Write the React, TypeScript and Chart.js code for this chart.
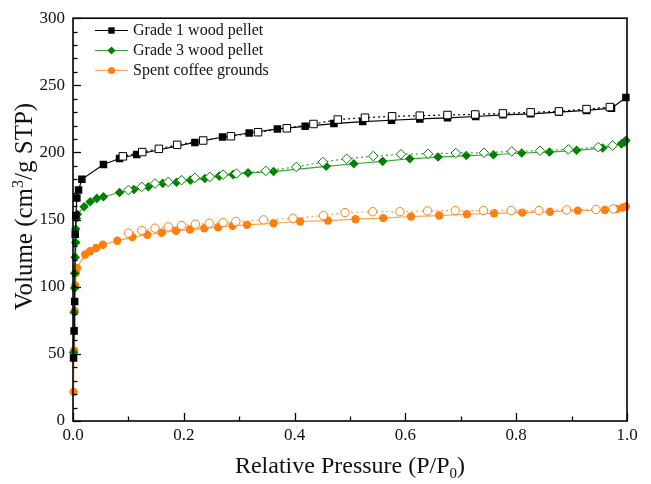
import React, { useEffect, useRef } from 'react';
import { Chart, registerables } from 'chart.js';

Chart.register(...registerables);

// ---- data ----
const g1AdsX = [0.001, 0.002, 0.003, 0.004, 0.005, 0.007, 0.010, 0.016, 0.055, 0.084, 0.115, 0.220, 0.270, 0.318, 0.369, 0.419, 0.471, 0.523, 0.575, 0.626, 0.676, 0.727, 0.776, 0.826, 0.877, 0.927, 0.972, 0.998];
const g1AdsY = [47, 67, 89, 139, 153, 166, 172, 180, 191, 195.5, 198.5, 207.5, 211.5, 214.5, 217.5, 219.5, 221.5, 223, 224, 225, 225.8, 226.8, 228, 228.8, 230, 231.3, 233, 241];
const g1DesX = [0.969, 0.927, 0.877, 0.826, 0.776, 0.726, 0.676, 0.626, 0.576, 0.527, 0.478, 0.434, 0.386, 0.334, 0.285, 0.235, 0.188, 0.155, 0.125, 0.090];
const g1DesY = [233.8, 232.3, 230.6, 229.9, 229.1, 228.3, 227.9, 227.4, 226.9, 225.9, 224.5, 221.2, 218, 215.1, 212.1, 208.9, 205.7, 202.7, 200.3, 197.1];

const g3AdsX = [0.001, 0.002, 0.003, 0.003, 0.004, 0.005, 0.005, 0.006, 0.008, 0.020, 0.031, 0.043, 0.055, 0.084, 0.110, 0.136, 0.162, 0.187, 0.212, 0.238, 0.264, 0.289, 0.316, 0.362, 0.457, 0.507, 0.559, 0.608, 0.659, 0.710, 0.759, 0.810, 0.860, 0.909, 0.956, 0.990, 0.995, 0.998];
const g3AdsY = [51, 81, 99, 110, 122, 133, 143, 151, 154, 159.6, 163.3, 165.8, 167, 170.2, 172.4, 174.5, 177, 177.8, 179.4, 180.6, 182.4, 183.5, 184.8, 185.8, 189.7, 191.6, 193.4, 195.3, 196.6, 197.7, 198.3, 199.6, 200.3, 201.6, 203.3, 206.4, 207.7, 209];
const g3DesX = [0.974, 0.948, 0.894, 0.843, 0.792, 0.742, 0.691, 0.641, 0.592, 0.542, 0.494, 0.451, 0.403, 0.348, 0.295, 0.271, 0.247, 0.220, 0.196, 0.172, 0.148, 0.124, 0.100];
const g3DesY = [205.2, 204, 202.3, 201.3, 200.8, 199.8, 199.6, 199, 198.6, 197.3, 195.3, 192.9, 189.2, 186.3, 184.3, 183.5, 181.8, 181.1, 179.4, 178.1, 176.9, 174.4, 172];

const scAdsX = [0.001, 0.002, 0.003, 0.004, 0.005, 0.007, 0.022, 0.031, 0.042, 0.054, 0.080, 0.107, 0.134, 0.160, 0.186, 0.211, 0.237, 0.262, 0.288, 0.314, 0.362, 0.410, 0.460, 0.510, 0.560, 0.610, 0.661, 0.711, 0.760, 0.811, 0.861, 0.911, 0.960, 0.981, 0.992, 0.998];
const scAdsY = [21.7, 52.5, 82, 101, 110.3, 114, 124, 126.4, 128.8, 131.3, 134.3, 137, 138.7, 140.2, 141.7, 142.6, 143.6, 144.3, 145.4, 146.1, 147.3, 148.6, 149.3, 150.3, 151.1, 152.3, 153, 154, 154.7, 155.2, 155.9, 156.7, 157.2, 157.9, 158.9, 159.8];
const scDesX = [0.975, 0.944, 0.891, 0.841, 0.791, 0.741, 0.690, 0.640, 0.590, 0.541, 0.491, 0.452, 0.397, 0.344, 0.294, 0.271, 0.246, 0.221, 0.196, 0.172, 0.148, 0.124, 0.100];
const scDesY = [157.9, 157.6, 157.2, 156.7, 156.7, 156.7, 156.7, 156.5, 155.9, 155.9, 155.2, 153, 151, 149.8, 148.6, 147.8, 147.3, 146.6, 145.6, 144.6, 143.6, 141.9, 140];

const seriesLabels = ['Grade 1 wood pellet', 'Grade 3 wood pellet', 'Spent coffee grounds'];
const xTickValues = [0, 0.2, 0.4, 0.6, 0.8, 1.0];
const yTickValues = [0, 50, 100, 150, 200, 250, 300];
const xTitleMain = 'Relative Pressure (P/P';
const xTitleSub = '0';
const yTitleA = 'Volume (cm';
const yTitleSup = '3';
const yTitleB = '/g STP)';

const FONT = '"Liberation Serif", "Times New Roman", serif';

const styles = [
  { marker: '#000000', line: '#000000', point: 'rect', radius: 5.3 },
  { marker: '#008000', line: '#3aa63a', point: 'rectRot', radius: 4.8 },
  { marker: '#ff7f0e', line: '#ffa04a', point: 'circle', radius: 4.2 },
];

function pts(xs: number[], ys: number[]) {
  return xs.map((x, i) => ({ x, y: ys[i] }));
}

function drawMarker(ctx: CanvasRenderingContext2D, type: string, x: number, y: number, r: number) {
  ctx.beginPath();
  if (type === 'rect') {
    const s = Math.SQRT1_2 * r;
    ctx.rect(x - s, y - s, 2 * s, 2 * s);
  } else if (type === 'rectRot') {
    ctx.moveTo(x - r, y);
    ctx.lineTo(x, y - r);
    ctx.lineTo(x + r, y);
    ctx.lineTo(x, y + r);
    ctx.closePath();
  } else {
    ctx.arc(x, y, r, 0, Math.PI * 2);
  }
  ctx.fill();
}

const decorPlugin = {
  id: 'decor',
  afterDraw(chart: any) {
    const ctx: CanvasRenderingContext2D = chart.ctx;
    const { left, right, top, bottom } = chart.chartArea;
    const xs = chart.scales.x;
    const ys = chart.scales.y;
    ctx.save();
    ctx.strokeStyle = '#000';
    // ticks
    ctx.lineWidth = 1.3;
    for (let v = 0; v <= 300 + 1e-9; v += 10) {
      const py = Math.round(ys.getPixelForValue(v)) + 0.5;
      const len = v % 50 === 0 ? 8 : 4.5;
      ctx.beginPath();
      ctx.moveTo(left, py);
      ctx.lineTo(left + len, py);
      ctx.stroke();
    }
    for (let i = 0; i <= 10; i++) {
      const v = i / 10;
      const px = Math.round(xs.getPixelForValue(v)) + 0.5;
      const len = i % 2 === 0 ? 8 : 4.5;
      ctx.beginPath();
      ctx.moveTo(px, bottom);
      ctx.lineTo(px, bottom - len);
      ctx.stroke();
    }
    // frame
    ctx.lineWidth = 1.6;
    ctx.strokeRect(left, top, right - left, bottom - top);

    // titles
    ctx.fillStyle = '#111';
    ctx.textBaseline = 'alphabetic';
    // x title
    const big = 24;
    const small = 15;
    ctx.font = `${big}px ${FONT}`;
    const w1 = ctx.measureText(xTitleMain).width;
    ctx.font = `${small}px ${FONT}`;
    const w2 = ctx.measureText(xTitleSub).width;
    ctx.font = `${big}px ${FONT}`;
    const w3 = ctx.measureText(')').width;
    const total = w1 + w2 + w3;
    let cx = (left + right) / 2 - total / 2;
    const by = 473;
    ctx.textAlign = 'left';
    ctx.fillText(xTitleMain, cx, by);
    cx += w1;
    ctx.font = `${small}px ${FONT}`;
    ctx.fillText(xTitleSub, cx, by + 5);
    cx += w2;
    ctx.font = `${big}px ${FONT}`;
    ctx.fillText(')', cx, by);

    // y title (rotated)
    const ybig = 25;
    const ysmall = 16;
    ctx.save();
    ctx.translate(32, (top + bottom) / 2 - 13);
    ctx.rotate(-Math.PI / 2);
    ctx.font = `${ybig}px ${FONT}`;
    const a = ctx.measureText(yTitleA).width;
    const c = ctx.measureText(yTitleB).width;
    ctx.font = `${ysmall}px ${FONT}`;
    const b = ctx.measureText(yTitleSup).width;
    let tx = -(a + b + c) / 2;
    ctx.font = `${ybig}px ${FONT}`;
    ctx.fillText(yTitleA, tx, 0);
    tx += a;
    ctx.font = `${ysmall}px ${FONT}`;
    ctx.fillText(yTitleSup, tx, -9);
    tx += b;
    ctx.font = `${ybig}px ${FONT}`;
    ctx.fillText(yTitleB, tx, 0);
    ctx.restore();

    // legend
    const rows = [30, 50, 70];
    ctx.font = `16px ${FONT}`;
    ctx.textBaseline = 'middle';
    seriesLabels.forEach((lab, i) => {
      const st = styles[i];
      const y = rows[i];
      ctx.strokeStyle = st.line;
      ctx.lineWidth = 1.2;
      ctx.beginPath();
      ctx.moveTo(95, y + 0.5);
      ctx.lineTo(128, y + 0.5);
      ctx.stroke();
      ctx.fillStyle = st.marker;
      drawMarker(ctx, st.point, 111.5, y + 0.5, st.radius * 0.85);
      ctx.fillStyle = '#111';
      ctx.fillText(lab, 133, y + 1);
    });
    ctx.restore();
  },
};

export default function App() {
  const ref = useRef<HTMLCanvasElement | null>(null);
  useEffect(() => {
    if (!ref.current) return;
    const ads = [pts(g1AdsX, g1AdsY), pts(g3AdsX, g3AdsY), pts(scAdsX, scAdsY)];
    const des = [pts(g1DesX, g1DesY), pts(g3DesX, g3DesY), pts(scDesX, scDesY)];
    const datasets: any[] = [];
    styles.forEach((st, i) => {
      datasets.push({
        label: seriesLabels[i] + ' (desorption)',
        data: des[i],
        borderColor: st.line,
        borderWidth: 1.2,
        borderDash: [2, 3],
        pointStyle: st.point,
        pointRadius: st.radius,
        pointBackgroundColor: '#ffffff',
        pointBorderColor: st.marker,
        pointBorderWidth: 1,
        showLine: true,
        tension: 0,
        clip: 8,
        order: 1,
      });
      datasets.push({
        label: seriesLabels[i],
        data: ads[i],
        borderColor: st.line,
        borderWidth: 1.2,
        pointStyle: st.point,
        pointRadius: st.radius,
        pointBackgroundColor: st.marker,
        pointBorderColor: st.marker,
        pointBorderWidth: 0,
        showLine: true,
        tension: 0,
        clip: 8,
        order: 2,
      });
    });
    const chart = new Chart(ref.current, {
      type: 'line',
      data: { datasets },
      options: {
        responsive: false,
        animation: false,
        events: [],
        layout: { padding: { top: 15, right: 24, left: 0, bottom: 0 } },
        plugins: { legend: { display: false }, tooltip: { enabled: false } },
        scales: {
          x: {
            type: 'linear',
            min: 0,
            max: 1,
            afterFit: (s: any) => { s.height = 63; },
            afterBuildTicks: (s: any) => { s.ticks = xTickValues.map((v) => ({ value: v })); },
            grid: { display: false, drawTicks: false },
            border: { display: false },
            ticks: {
              padding: 4,
              color: '#111',
              font: { family: FONT, size: 17 },
              callback: (v: any) => Number(v).toFixed(1),
              maxRotation: 0,
            },
          },
          y: {
            type: 'linear',
            min: 0,
            max: 300,
            afterFit: (s: any) => { s.width = 73; },
            afterBuildTicks: (s: any) => { s.ticks = yTickValues.map((v) => ({ value: v })); },
            grid: { display: false, drawTicks: false },
            border: { display: false },
            ticks: {
              padding: 8,
              color: '#111',
              font: { family: FONT, size: 17 },
            },
          },
        },
      },
      plugins: [decorPlugin],
    });
    return () => chart.destroy();
  }, []);
  return (
    <div style={{ position: 'fixed', left: 0, top: 0, width: 651, height: 484, background: '#fff' }}>
      <canvas ref={ref} width={651} height={484} style={{ display: 'block' }} />
    </div>
  );
}
